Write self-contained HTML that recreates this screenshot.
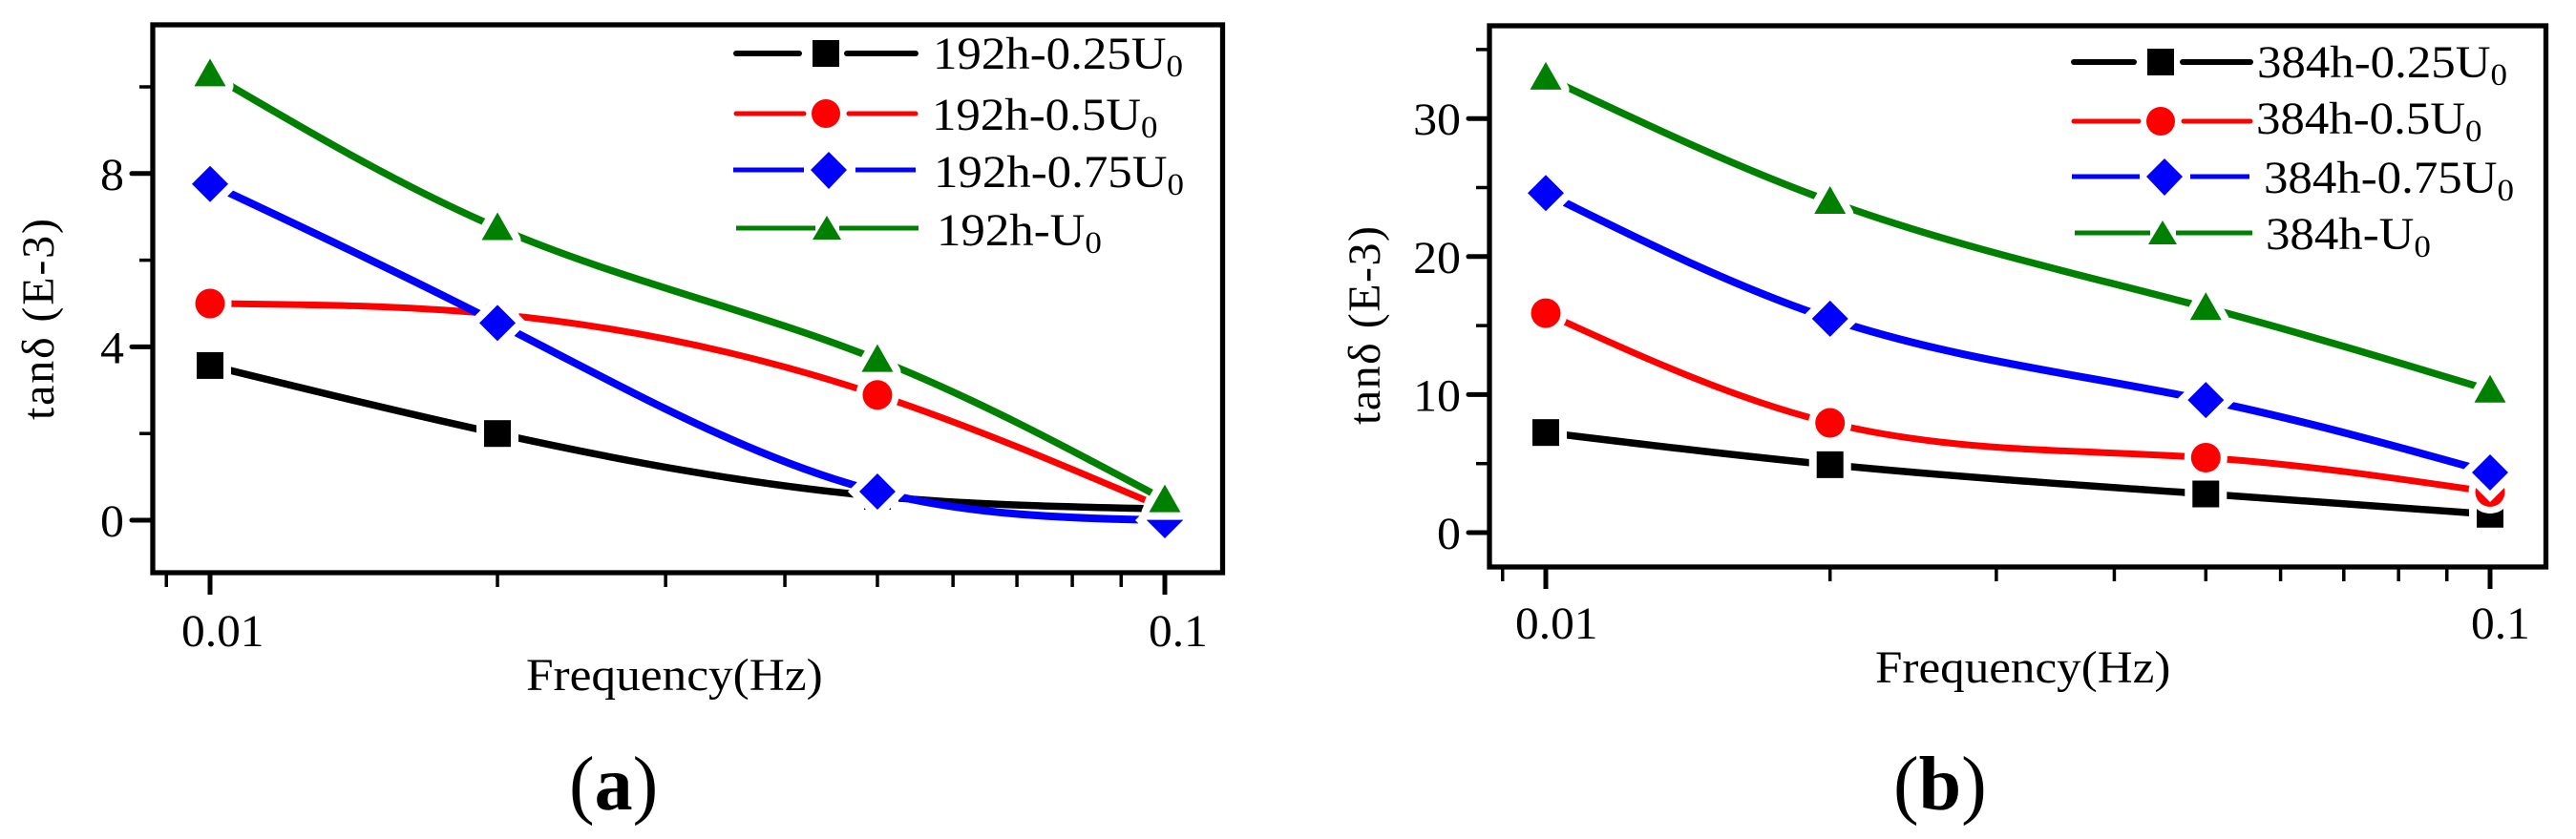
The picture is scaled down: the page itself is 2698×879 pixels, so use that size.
<!DOCTYPE html>
<html lang="en">
<head>
<meta charset="utf-8">
<title>tan delta vs frequency</title>
<style>
html,body{margin:0;padding:0;background:#fff;}
svg{display:block;}
text{font-family:"Liberation Serif",serif;fill:#000;}
</style>
</head>
<body>
<svg id="chart" width="2698" height="879" viewBox="0 0 2698 879" xmlns="http://www.w3.org/2000/svg">
  <rect x="0" y="0" width="2698" height="879" fill="#fff"/>

  <g id="panel-a"></g>
  <g id="panel-b"></g>

  <g font-size="48">
    <g>
      <line x1="771" y1="56" x2="837" y2="56" stroke="#000" stroke-width="6" stroke-linecap="round"/>
      <line x1="887" y1="56" x2="959" y2="56" stroke="#000" stroke-width="6" stroke-linecap="round"/>
      <rect x="851" y="42" width="28" height="28" fill="#000"/>
      <text transform="translate(977,72) scale(1.06,1)">192h-0.25U<tspan font-size="33" dy="8">0</tspan></text>
    </g>
    <g>
      <line x1="771" y1="119" x2="842" y2="119" stroke="#f00" stroke-width="5" stroke-linecap="round"/>
      <line x1="889" y1="119" x2="959" y2="119" stroke="#f00" stroke-width="5" stroke-linecap="round"/>
      <circle cx="865" cy="119" r="15" fill="#f00"/>
      <text transform="translate(976,136) scale(1.06,1)">192h-0.5U<tspan font-size="33" dy="8">0</tspan></text>
    </g>
    <g>
      <line x1="768" y1="178" x2="842" y2="178" stroke="#00f" stroke-width="5"/>
      <line x1="896" y1="178" x2="959" y2="178" stroke="#00f" stroke-width="5"/>
      <polygon points="868,159 887,178 868,198 849,178" fill="#00f"/>
      <text transform="translate(978,196) scale(1.06,1)">192h-0.75U<tspan font-size="33" dy="8">0</tspan></text>
    </g>
    <g>
      <line x1="771" y1="239" x2="854" y2="239" stroke="#008000" stroke-width="5"/>
      <line x1="879" y1="239" x2="962" y2="239" stroke="#008000" stroke-width="5"/>
      <polygon points="866,226 881,251 851,251" fill="#008000"/>
      <text transform="translate(981,257) scale(1.06,1)">192h-U<tspan font-size="33" dy="8">0</tspan></text>
    </g>
  </g>

  <g font-size="48">
    <g>
      <line x1="2172" y1="65" x2="2235" y2="65" stroke="#000" stroke-width="6" stroke-linecap="round"/>
      <line x1="2286" y1="65" x2="2357" y2="65" stroke="#000" stroke-width="6" stroke-linecap="round"/>
      <rect x="2249" y="51" width="28" height="28" fill="#000"/>
      <text transform="translate(2364,81) scale(1.06,1)">384h-0.25U<tspan font-size="33" dy="8">0</tspan></text>
    </g>
    <g>
      <line x1="2172" y1="127" x2="2240" y2="127" stroke="#f00" stroke-width="5" stroke-linecap="round"/>
      <line x1="2287" y1="127" x2="2357" y2="127" stroke="#f00" stroke-width="5" stroke-linecap="round"/>
      <circle cx="2263" cy="127" r="15" fill="#f00"/>
      <text transform="translate(2363,140) scale(1.06,1)">384h-0.5U<tspan font-size="33" dy="8">0</tspan></text>
    </g>
    <g>
      <line x1="2170" y1="185" x2="2241" y2="185" stroke="#00f" stroke-width="5"/>
      <line x1="2294" y1="185" x2="2356" y2="185" stroke="#00f" stroke-width="5"/>
      <polygon points="2267,166 2286,185 2267,205 2248,185" fill="#00f"/>
      <text transform="translate(2371,202) scale(1.06,1)">384h-0.75U<tspan font-size="33" dy="8">0</tspan></text>
    </g>
    <g>
      <line x1="2173" y1="244" x2="2252" y2="244" stroke="#008000" stroke-width="5"/>
      <line x1="2279" y1="244" x2="2359" y2="244" stroke="#008000" stroke-width="5"/>
      <polygon points="2265,231 2280,256 2250,256" fill="#008000"/>
      <text transform="translate(2373,261) scale(1.06,1)">384h-U<tspan font-size="33" dy="8">0</tspan></text>
    </g>
  </g>

  <text font-size="48" transform="translate(56,440) rotate(-90)" textLength="211" lengthAdjust="spacing">tanδ (E-3)</text>
  <text font-size="48" transform="translate(551,723) scale(1.07,1)">Frequency(Hz)</text>
  <text font-size="80" x="596" y="848">(<tspan font-weight="bold">a</tspan>)</text>

  <text font-size="48" transform="translate(1445,445) rotate(-90)" textLength="208" lengthAdjust="spacing">tanδ (E-3)</text>
  <text font-size="48" transform="translate(1964,715) scale(1.065,1)">Frequency(Hz)</text>
  <text font-size="80" x="1983" y="848">(<tspan font-weight="bold">b</tspan>)</text>
</svg>

<script>
// ---- data ----
const frequencies = [0.01, 0.02, 0.05, 0.1];
const minorFrequencies = [0.009, 0.02, 0.03, 0.04, 0.05, 0.06, 0.07, 0.08, 0.09];
const majorFrequencies = [0.01, 0.1];
const majorFrequencyLabels = ['0.01', '0.1'];

const a025 = [3.57, 2.0, 0.55, 0.26];
const a05 = [5.0, 4.75, 2.89, 0.27];
const a075 = [7.76, 4.55, 0.66, 0.0];
const a100 = [10.3, 6.75, 3.71, 0.47];
const aMajorTicks = [0, 4, 8];
const aMinorTicks = [2, 6, 10];

const b025 = [7.25, 4.92, 2.8, 1.33];
const b05 = [15.9, 7.95, 5.43, 2.94];
const b075 = [24.6, 15.5, 9.6, 4.36];
const b100 = [33.0, 24.0, 16.3, 10.32];
const bMajorTicks = [0, 10, 20, 30];
const bMinorTicks = [5, 15, 25, 35];

// ---- helpers ----
const NS = 'http://www.w3.org/2000/svg';
function mk(parent, tag, attrs) {
  const el = document.createElementNS(NS, tag);
  for (const k in attrs) el.setAttribute(k, attrs[k]);
  parent.appendChild(el);
  return el;
}
function splinePath(xs, ys) {
  const n = xs.length;
  const m = new Array(n).fill(0);
  const c = new Array(n).fill(0);
  const d = new Array(n).fill(0);
  for (let i = 1; i < n - 1; i++) {
    const h0 = xs[i] - xs[i - 1], h1 = xs[i + 1] - xs[i];
    const b = 2 * (h0 + h1) - h0 * c[i - 1];
    c[i] = h1 / b;
    d[i] = (6 * ((ys[i + 1] - ys[i]) / h1 - (ys[i] - ys[i - 1]) / h0) - h0 * d[i - 1]) / b;
  }
  for (let i = n - 2; i > 0; i--) m[i] = d[i] - c[i] * m[i + 1];
  let p = 'M' + xs[0].toFixed(1) + ' ' + ys[0].toFixed(1);
  for (let i = 0; i < n - 1; i++) {
    const h = xs[i + 1] - xs[i];
    const sl = (ys[i + 1] - ys[i]) / h;
    const s0 = sl - h * (2 * m[i] + m[i + 1]) / 6;
    const s1 = sl + h * (m[i] + 2 * m[i + 1]) / 6;
    p += ' C' + (xs[i] + h / 3).toFixed(1) + ' ' + (ys[i] + s0 * h / 3).toFixed(1) +
         ' ' + (xs[i + 1] - h / 3).toFixed(1) + ' ' + (ys[i + 1] - s1 * h / 3).toFixed(1) +
         ' ' + xs[i + 1].toFixed(1) + ' ' + ys[i + 1].toFixed(1);
  }
  return p;
}
function drawMarker(g, kind, color, x, y) {
  if (kind === 'square') {
    return mk(g, 'rect', { x: x - 14, y: y - 14, width: 28, height: 28, fill: color, stroke: '#fff', 'stroke-width': 16, 'paint-order': 'stroke', 'stroke-linejoin': 'round' });
  }
  if (kind === 'circle') {
    return mk(g, 'circle', { cx: x, cy: y, r: 15.5, fill: color, stroke: '#fff', 'stroke-width': 14, 'paint-order': 'stroke' });
  }
  if (kind === 'diamond') {
    return mk(g, 'polygon', { points: [x, y - 19, x + 19, y, x, y + 19, x - 19, y].join(' '), fill: color, stroke: '#fff', 'stroke-width': 17, 'paint-order': 'stroke', 'stroke-linejoin': 'miter' });
  }
  return mk(g, 'polygon', { points: [x, y - 16, x + 16.5, y + 13, x - 16.5, y + 13].join(' '), fill: color, stroke: '#fff', 'stroke-width': 16, 'paint-order': 'stroke', 'stroke-linejoin': 'round' });
}

function drawPanel(root, cfg) {
  const xScale = function (f) { return cfg.x001 + (Math.log10(f) + 2) * cfg.decade; };
  const yScale = function (v) { return cfg.y0 - v * cfg.unit; };

  for (const v of cfg.minorY) {
    const t = mk(root, 'line', { x1: cfg.left - 14, x2: cfg.left, y1: yScale(v), y2: yScale(v), stroke: '#000', 'stroke-width': 3.5 });
    
    
  }
  for (const v of cfg.majorY) {
    const t = mk(root, 'line', { x1: cfg.left - 22, x2: cfg.left, y1: yScale(v), y2: yScale(v), stroke: '#000', 'stroke-width': 5, 'stroke-linecap': 'round' });
    
    
    const lab = mk(root, 'text', { 'font-size': 48, 'text-anchor': 'end', transform: 'translate(' + (cfg.left - 30) + ',' + (yScale(v) + 17) + ') scale(1.04,1)' });
    lab.textContent = String(v);
    
    
  }
  for (const f of minorFrequencies) {
    const t = mk(root, 'line', { x1: xScale(f), x2: xScale(f), y1: cfg.bottom, y2: cfg.bottom + 15, stroke: '#000', 'stroke-width': 3.5 });
    
    
  }
  majorFrequencies.forEach(function (f, i) {
    const t = mk(root, 'line', { x1: xScale(f), x2: xScale(f), y1: cfg.bottom, y2: cfg.bottom + 23, stroke: '#000', 'stroke-width': 5 });
    
    
    const lab = mk(root, 'text', { 'font-size': 48, transform: 'translate(' + (xScale(f) + cfg.labelDx[i]) + ',' + cfg.xLabelY + ') scale(1.03,1)' });
    lab.textContent = majorFrequencyLabels[i];
    
    
  });

  const frame = mk(root, 'rect', { x: cfg.left, y: cfg.top, width: cfg.right - cfg.left, height: cfg.bottom - cfg.top, fill: 'none', stroke: '#000', 'stroke-width': 5.3 });
  
  

  cfg.series.forEach(function (s) {
    const g = mk(root, 'g', {});
    
    
    const xs = frequencies.map(xScale);
    const ys = s.values.map(yScale);
    const line = mk(g, 'path', { d: splinePath(xs, ys), fill: 'none', stroke: s.color, 'stroke-width': s.width });
    
    
    xs.forEach(function (x, i) {
      const mark = drawMarker(g, s.kind, s.color, x, ys[i]);
      
      
    });
  });
}

drawPanel(document.getElementById('panel-a'), {
  left: 160, right: 1280.5, top: 26, bottom: 600,
  x001: 220, decade: 1000, y0: 545, unit: 45.4,
  xLabelY: 677, labelDx: [-30, -17],
  majorY: aMajorTicks, minorY: aMinorTicks,
  series: [
    { name: '192h-0.25U0', values: a025, color: '#000', kind: 'square', width: 7.5 },
    { name: '192h-0.5U0', values: a05, color: '#f00', kind: 'circle', width: 7 },
    { name: '192h-0.75U0', values: a075, color: '#00f', kind: 'diamond', width: 8 },
    { name: '192h-U0', values: a100, color: '#008000', kind: 'triangle', width: 7.5 }
  ]
});
drawPanel(document.getElementById('panel-b'), {
  left: 1560, right: 2666.5, top: 27, bottom: 594,
  x001: 1619, decade: 989, y0: 558, unit: 14.46,
  xLabelY: 669, labelDx: [-32, -20],
  majorY: bMajorTicks, minorY: bMinorTicks,
  series: [
    { name: '384h-0.25U0', values: b025, color: '#000', kind: 'square', width: 7.5 },
    { name: '384h-0.5U0', values: b05, color: '#f00', kind: 'circle', width: 7 },
    { name: '384h-0.75U0', values: b075, color: '#00f', kind: 'diamond', width: 8 },
    { name: '384h-U0', values: b100, color: '#008000', kind: 'triangle', width: 7.5 }
  ]
});
</script>
</body>
</html>
